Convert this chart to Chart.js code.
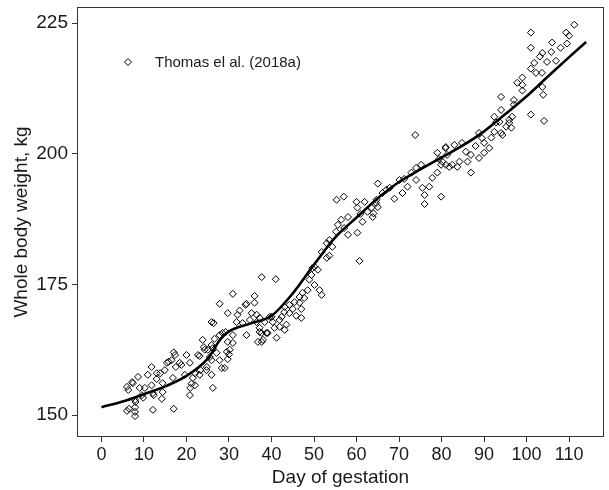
<!DOCTYPE html>
<html>
<head>
<meta charset="utf-8">
<script src="https://cdn.jsdelivr.net/npm/chart.js@4.4.0/dist/chart.umd.min.js"></script>
<style>
    html, body { margin: 0; padding: 0; background: #fff; }
    #wrap { width: 609px; height: 490px; }
</style>
</head>
<body>
<div id="wrap"><canvas id="chart" width="609" height="490"></canvas></div>
<script>
const obsDays = [
    6.0, 6.0, 6.3, 6.5, 7.2, 7.4, 7.9, 7.9, 7.9, 7.9, 8.0, 8.6, 9.0, 9.5, 9.8, 10.2,
    10.9, 11.8, 11.8, 12.1, 12.3, 12.1, 13.0, 13.0, 13.8, 14.2, 14.4, 14.4, 14.9, 15.4,
    15.8, 16.5, 16.8, 17.0, 17.0, 17.3, 17.5, 18.4, 18.8, 19.6, 20.0, 20.8, 20.8, 20.9,
    21.2, 21.5, 22.0, 22.0, 22.7, 23.1, 23.1, 23.3, 23.8, 24.1, 24.3, 24.7, 24.8, 25.0,
    25.5, 25.9, 25.9, 25.9, 25.9, 26.2, 26.4, 26.2, 26.6, 27.1, 27.8, 27.8, 27.8, 28.3,
    28.5, 29.0, 29.2, 29.5, 29.7, 29.7, 29.7, 30.0, 30.2, 30.9, 30.9, 30.9, 31.8, 32.0,
    32.5, 33.2, 33.9, 34.1, 34.1, 34.9, 35.3, 36.0, 36.0, 36.5, 36.5, 36.8, 37.2, 37.2,
    37.2, 37.7, 37.7, 37.7, 38.0, 38.4, 38.8, 39.1, 39.6, 40.0, 40.3, 40.7, 41.0, 41.2,
    41.9, 41.9, 42.4, 43.0, 43.1, 43.1, 43.5, 44.2, 44.2, 45.0, 45.4, 45.8, 46.6, 46.6,
    47.0, 47.0, 47.3, 47.7, 48.5, 48.9, 49.4, 49.6, 50.1, 50.1, 50.9, 51.3, 51.8, 51.8,
    53.0, 53.0, 53.6, 53.6, 54.3, 55.2, 55.3, 55.6, 56.4, 57.0, 57.1, 58.0, 58.0, 60.0,
    60.2, 60.2, 60.7, 60.9, 61.4, 61.9, 62.6, 63.5, 63.8, 64.0, 64.6, 64.7, 65.0, 65.0,
    66.1, 67.0, 67.8, 68.9, 70.1, 70.8, 71.2, 72.0, 72.9, 73.8, 74.0, 74.0, 75.2, 75.5,
    76.0, 76.0, 77.1, 77.8, 79.0, 79.0, 79.4, 79.9, 79.9, 80.2, 80.9, 81.0, 81.0, 81.3,
    81.8, 82.5, 83.0, 83.7, 84.2, 84.8, 85.7, 86.1, 86.9, 86.9, 88.0, 88.8, 88.8, 89.5,
    90.0, 90.0, 91.2, 91.7, 92.4, 92.4, 92.8, 93.6, 94.0, 94.0, 94.0, 94.3, 95.2, 95.9,
    95.9, 96.4, 96.6, 97.0, 97.0, 97.8, 99.0, 99.0, 99.0, 101.0, 101.0, 101.0, 101.0, 101.8,
    102.2, 103.1, 103.6, 103.7, 103.7, 103.9, 104.1, 104.8, 105.8, 106.0, 106.9, 108.0, 109.3, 109.5,
    110.0, 111.2
];
const obsWeight = [
    155.4, 150.8, 154.8, 151.2, 156.3, 156.1, 152.9, 151.5, 150.6, 149.8, 152.5, 157.3, 155.2, 153.8, 153.3, 155.2,
    157.7, 159.2, 155.7, 154.2, 153.8, 151.0, 158.0, 156.9, 158.0, 153.1, 154.4, 156.1, 158.6, 160.0,
    160.2, 160.5, 157.1, 162.0, 151.2, 161.5, 159.2, 160.0, 159.6, 157.7, 161.5, 160.0, 153.8, 155.2,
    156.0, 157.1, 155.7, 158.0, 161.5, 161.3, 157.7, 158.6, 164.4, 163.0, 162.5, 158.6, 159.2, 162.5,
    161.1, 167.8, 163.4, 160.5, 157.7, 155.2, 167.6, 162.8, 164.6, 161.9, 171.3, 165.3, 160.5, 159.0,
    165.7, 159.0, 165.9, 162.1, 169.5, 164.0, 160.7, 161.6, 162.5, 173.2, 165.3, 163.8, 167.8, 169.2,
    170.0, 167.6, 171.1, 171.3, 165.3, 168.2, 169.5, 172.8, 171.5, 167.8, 169.2, 164.0, 166.7, 165.9,
    168.6, 176.4, 165.7, 164.0, 164.4, 167.8, 165.7, 165.7, 168.8, 168.8, 167.8, 166.7, 176.0, 164.8,
    168.2, 166.9, 168.8, 169.7, 170.7, 166.3, 167.3, 171.1, 169.5, 170.3, 171.6, 169.0, 172.6, 171.5,
    170.3, 168.6, 173.4, 172.4, 173.9, 175.9, 176.8, 178.1, 178.4, 174.9, 177.8, 173.9, 181.2, 173.0,
    182.9, 180.1, 183.5, 180.5, 182.2, 185.1, 191.2, 186.4, 187.4, 191.8, 185.8, 187.9, 184.5, 190.8,
    189.7, 184.9, 179.5, 188.5, 187.0, 190.8, 188.9, 189.7, 187.9, 188.6, 190.6, 191.2, 194.3, 189.8,
    192.5, 193.1, 193.5, 191.4, 195.0, 192.5, 195.2, 193.7, 196.4, 203.6, 197.3, 195.0, 197.9, 193.5,
    192.1, 190.4, 193.7, 195.4, 200.2, 196.4, 199.0, 197.9, 191.8, 198.5, 201.1, 201.3, 197.9, 199.8,
    197.5, 197.9, 201.7, 197.5, 198.5, 202.1, 200.4, 198.5, 199.8, 196.4, 201.5, 204.0, 199.2, 203.0,
    202.1, 200.2, 201.1, 203.1, 204.2, 207.1, 206.0, 206.1, 204.0, 210.9, 208.4, 203.6, 205.2, 206.5,
    205.9, 205.0, 207.1, 209.4, 210.3, 213.6, 214.6, 213.2, 212.1, 223.2, 220.3, 216.3, 207.5, 217.4,
    215.5, 218.6, 215.5, 219.3, 212.8, 211.3, 206.3, 217.6, 219.5, 221.3, 217.8, 220.3, 223.2, 221.1,
    222.6, 224.7
];

// Smoothed trend
const trendDays = [0, 5, 10, 15, 20, 25, 28, 30, 35, 40, 45, 50, 55, 60, 65, 70, 75, 80, 85, 90, 95, 100, 105, 110, 114];
const trendWeight = [151.5, 152.6, 154.0, 155.5, 157.5, 160.8, 164.5, 166.0, 167.5, 169.0, 173.3, 178.8, 184.0, 187.8,
    191.5, 194.6, 197.0, 199.3, 201.6, 204.3, 207.6, 211.0, 214.8, 218.5, 221.4];

const xTicks = [0, 10, 20, 30, 40, 50, 60, 70, 80, 90, 100, 110];
const yTicks = [150, 175, 200, 225];
const seriesLabel = 'Thomas el al. (2018a)';

const FONT = "'Liberation Sans', Arial, sans-serif";
const INK = '#1a1a1a';

const points = obsDays.map((d, i) => ({ x: d, y: obsWeight[i] }));
const trend = trendDays.map((d, i) => ({ x: d, y: trendWeight[i] }));

// box around the plot area + inset legend
const framePlugin = {
    id: 'frame',
    afterDraw(chart) {
        const { ctx, chartArea: a } = chart;
        ctx.save();
        ctx.strokeStyle = '#333';
        ctx.lineWidth = 1;
        ctx.strokeRect(a.left + 0.5, a.top + 0.5, a.right - a.left - 1, a.bottom - a.top - 1);

        // legend
        const lx = a.left + 51, ly = a.top + 55;
        ctx.strokeStyle = '#000';
        ctx.fillStyle = '#fff';
        Chart.helpers.drawPoint(ctx, { pointStyle: 'rectRot', radius: 3.5, borderWidth: 1 }, lx, ly);
        ctx.fillStyle = INK;
        ctx.font = '15px ' + FONT;
        ctx.textBaseline = 'middle';
        ctx.textAlign = 'left';
        ctx.fillText(seriesLabel, lx + 27, ly + 1);
        ctx.restore();
    }
};

function noEdgePadding(s) {
    s.paddingTop = 0;
    s.paddingBottom = 0;
    s.paddingLeft = 0;
    s.paddingRight = 0;
}

new Chart(document.getElementById('chart'), {
    type: 'scatter',
    data: {
        datasets: [
            {
                label: seriesLabel,
                data: points,
                pointStyle: 'rectRot',
                pointRadius: 3.5,
                pointBorderWidth: 1,
                pointBorderColor: '#000',
                pointBackgroundColor: 'rgba(255,255,255,0)',
                showLine: false
            },
            {
                label: 'trend',
                data: trend,
                showLine: true,
                pointRadius: 0,
                borderColor: '#000',
                borderWidth: 2.6,
                cubicInterpolationMode: 'monotone'
            }
        ]
    },
    options: {
        responsive: false,
        animation: false,
        devicePixelRatio: 1,
        layout: { padding: { top: 7, right: 4, left: 0, bottom: 0 } },
        plugins: { legend: { display: false }, tooltip: { enabled: false } },
        scales: {
            x: {
                type: 'linear',
                min: -5.75,
                max: 118.2,
                afterBuildTicks: s => { s.ticks = xTicks.map(v => ({ value: v })); },
                afterFit: s => { s.height = 53; noEdgePadding(s); },
                border: { display: false },
                grid: { drawOnChartArea: false, drawTicks: true, tickLength: 5, color: '#333' },
                ticks: { color: INK, font: { family: FONT, size: 18 }, padding: 2, maxRotation: 0 },
                title: { display: true, text: 'Day of gestation', color: INK, font: { family: FONT, size: 19 }, padding: { top: 0, bottom: 1 } }
            },
            y: {
                type: 'linear',
                min: 145.8,
                max: 228.1,
                afterBuildTicks: s => { s.ticks = yTicks.map(v => ({ value: v })); },
                afterFit: s => { s.width = 77; noEdgePadding(s); },
                border: { display: false },
                grid: { drawOnChartArea: false, drawTicks: true, tickLength: 5, color: '#333' },
                ticks: { color: INK, font: { family: FONT, size: 19 }, padding: 4 },
                title: { display: true, text: 'Whole body weight, kg', color: INK, font: { family: FONT, size: 19 }, padding: { top: 10, bottom: 0 } }
            }
        }
    },
    plugins: [framePlugin]
});
</script>
</body>
</html>
